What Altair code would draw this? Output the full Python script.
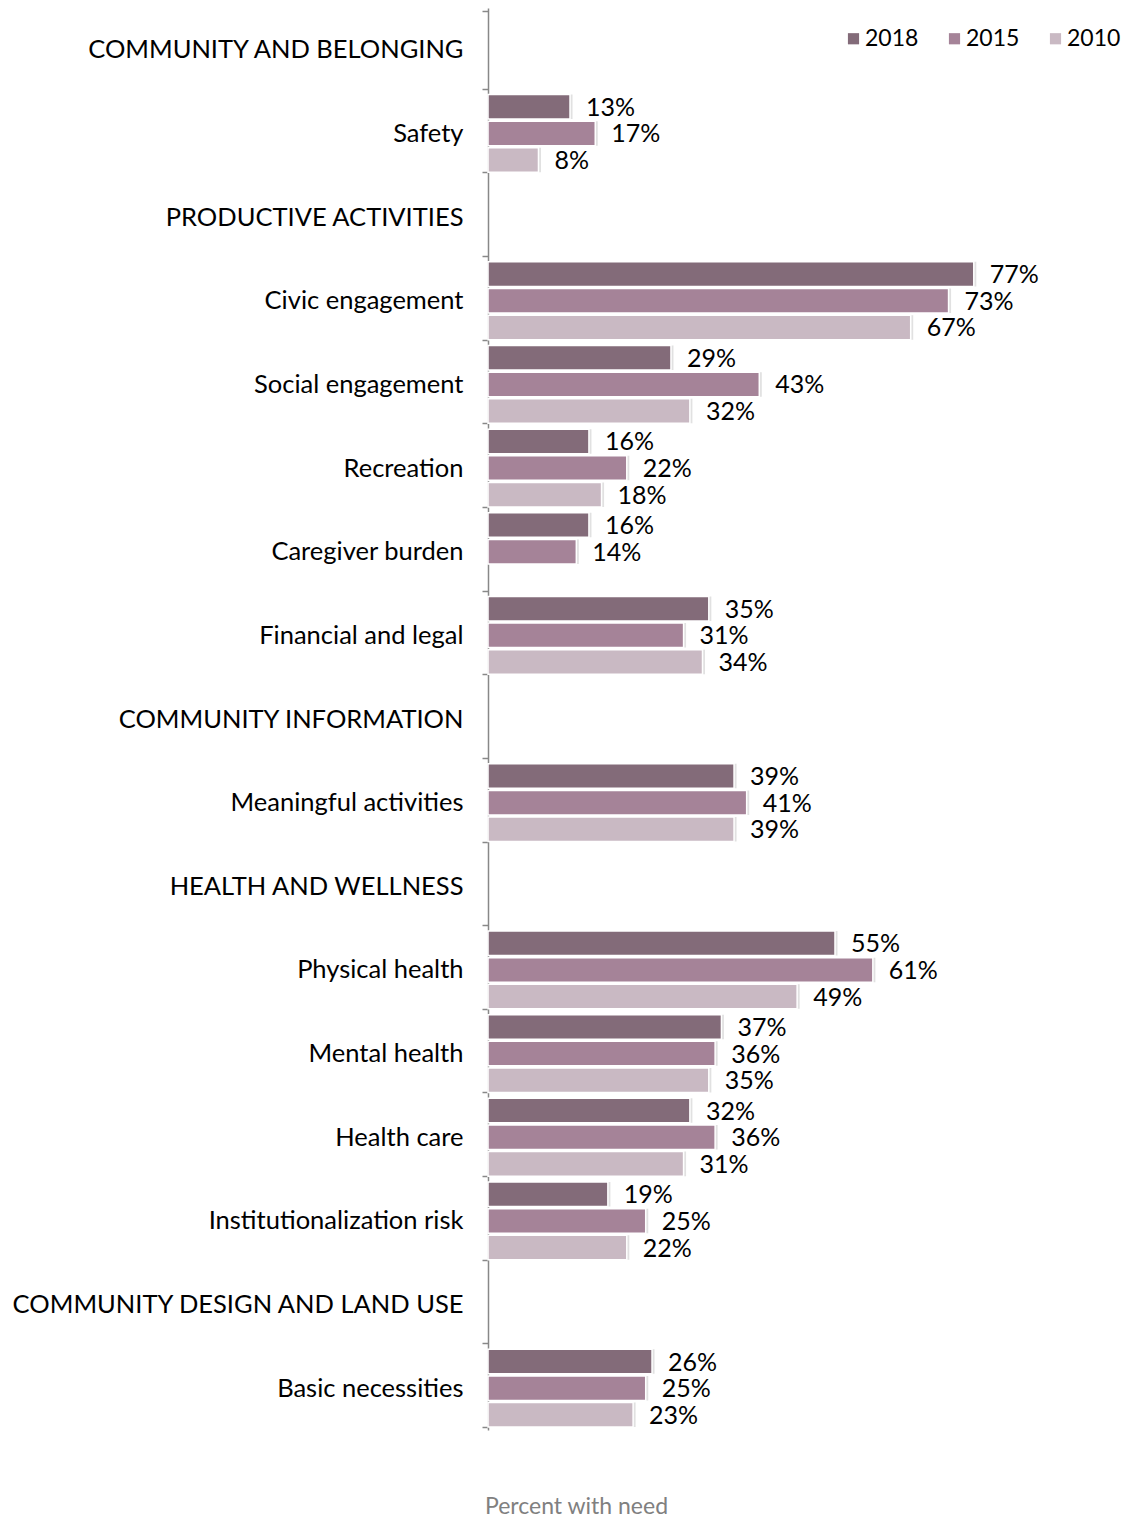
import altair as alt
import pandas as pd

rows = [
    "COMMUNITY AND BELONGING", "Safety",
    "PRODUCTIVE ACTIVITIES", "Civic engagement", "Social engagement", "Recreation",
    "Caregiver burden", "Financial and legal",
    "COMMUNITY INFORMATION", "Meaningful activities",
    "HEALTH AND WELLNESS", "Physical health", "Mental health", "Health care",
    "Institutionalization risk",
    "COMMUNITY DESIGN AND LAND USE", "Basic necessities",
]
items = ["Safety", "Civic engagement", "Social engagement", "Recreation",
         "Caregiver burden", "Financial and legal", "Meaningful activities",
         "Physical health", "Mental health", "Health care",
         "Institutionalization risk", "Basic necessities"]
years = ["2018", "2015", "2010"]
v2018 = [13, 77, 29, 16, 16, 35, 39, 55, 37, 32, 19, 26]
v2015 = [17, 73, 43, 22, 14, 31, 41, 61, 36, 36, 25, 25]
v2010 = [8, 67, 32, 18, None, 34, 39, 49, 35, 31, 22, 23]
colors = ["#836B79", "#A58398", "#C9B9C3"]

recs = []
for yr, vals in zip(years, [v2018, v2015, v2010]):
    for it, v in zip(items, vals):
        if v is not None:
            recs.append({"row": it, "year": yr, "value": v, "label": f"{v}%"})
df = pd.DataFrame(recs)

FONT = "Lato"

y_scale = alt.Scale(domain=rows, paddingInner=0.07, paddingOuter=0.035)
y_enc = alt.Y("row:N", sort=rows, scale=y_scale,
              axis=alt.Axis(title=None, tickBand="extent", labelFontSize=25.5, labelFont=FONT,
                            labelColor="#000000", labelPadding=19, tickSize=6,
                            tickColor="#888888", domainColor="#888888", domainWidth=1.5,
                            tickWidth=1.5, labelLimit=600))
yoff = alt.YOffset("year:N", sort=years, scale=alt.Scale(domain=years, paddingInner=0.08))
x_enc = alt.X("value:Q", scale=alt.Scale(domain=[0, 101.6], nice=False),
              axis=alt.Axis(labels=False, ticks=False, domain=False, grid=False,
                            title="Percent with need", titleFont=FONT, titleFontSize=23,
                            titleFontWeight="normal", titleColor="#808080",
                            titleX=88, titleY=83, titleBaseline="alphabetic",
                            titleAlign="center"))

shadow = alt.Chart(df).mark_bar(color="#c4c4c4", opacity=0.5, xOffset=2.5).encode(
    y=alt.Y("row:N", sort=rows, scale=y_scale), yOffset=yoff, x="value:Q",
)
bars = alt.Chart(df).mark_bar(stroke="white", strokeWidth=1.5).encode(
    y=y_enc, yOffset=yoff, x=x_enc,
    color=alt.Color("year:N", sort=years,
                    scale=alt.Scale(domain=years, range=colors),
                    legend=alt.Legend(title=None, orient="none", direction="horizontal",
                                      legendX=354, legendY=19,
                                      symbolType="square", symbolSize=125,
                                      symbolStrokeWidth=0,
                                      labelFont=FONT, labelFontSize=23,
                                      columnPadding=24, labelOffset=0)),
)
text = alt.Chart(df).mark_text(align="left", baseline="middle", dx=16, dy=1,
                               font=FONT, fontSize=25, color="#000000").encode(
    y=alt.Y("row:N", sort=rows, scale=y_scale),
    yOffset=yoff, x="value:Q", text="label:N",
)

chart = (shadow + bars + text).properties(
    width=1117, height=1510,
    autosize=alt.AutoSizeParams(type="fit", contains="padding"),
    padding={"left": 2, "top": -12, "right": -4, "bottom": 0},
).configure_view(stroke=None)
chart.save("out.html", embed_options={"renderer": "svg", "actions": False})
